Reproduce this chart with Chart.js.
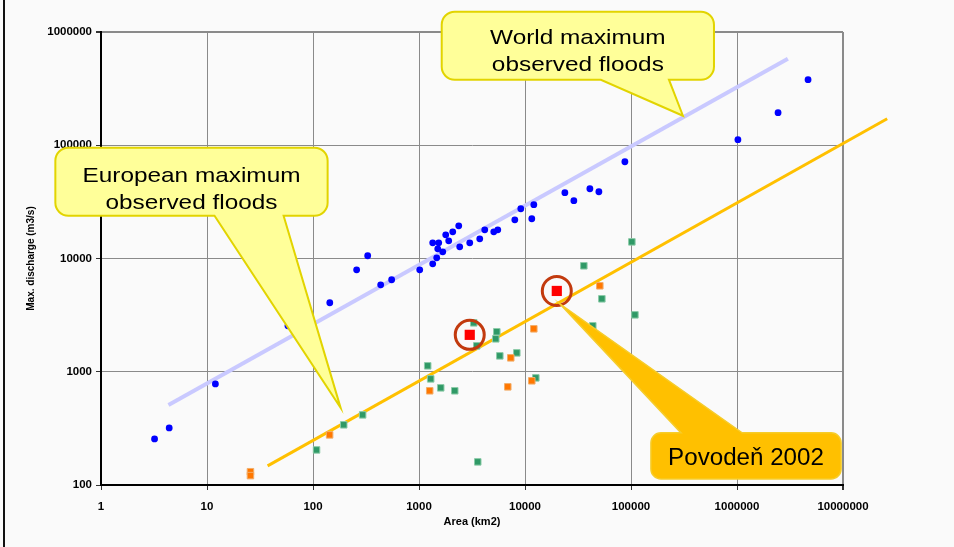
<!DOCTYPE html>
<html>
<head>
<meta charset="utf-8">
<script src="https://cdn.jsdelivr.net/npm/chart.js@4/dist/chart.umd.min.js"></script>
<style>
  html, body { margin: 0; padding: 0; background: #fafafa; overflow: hidden; }
  #wrap { position: relative; width: 954px; height: 547px; }
</style>
</head>
<body>
<div id="wrap"><canvas id="c" width="954" height="547"></canvas></div>
<script>
// Axis ticks (decades)
const areaTicks = [1, 10, 100, 1000, 10000, 100000, 1000000, 10000000];
const dischargeTicks = [100, 1000, 10000, 100000, 1000000];

// World maximum observed floods: catchment area (km2) and peak discharge (m3/s)
const worldArea = [3.2, 4.4, 12, 58, 144, 258, 328, 435, 552, 1016, 1347, 1469, 1347, 1535, 1503, 1675,
  1787, 1907, 2081, 2371, 2422, 3011, 3742, 4171, 5075, 5537, 8015, 9127, 11590, 12110, 23770, 28900,
  40930, 49770, 87560, 1020000, 2440000, 4680000];
const worldQ = [255, 319, 781, 2546, 4066, 7950, 10570, 5860, 6490, 7950, 8970, 10140, 13750, 13750, 12170, 11450,
  16180, 14320, 17200, 19440, 12670, 13750, 14920, 17920, 17200, 17920, 21970, 27500, 22430, 29860, 38100, 32380,
  41300, 38850, 71480, 111900, 193800, 379000];

// European maximum observed floods (two groups of stations)
const euroGreenArea = [108, 195, 294, 1208, 1289, 1603, 2175, 3286, 3508, 3584, 5300, 5420, 5786, 8370, 12650,
  35900, 43600, 53100, 101900, 108900];
const euroGreenQ = [204, 340, 416, 1128, 865, 721, 679, 2703, 1694, 160, 1953, 2254, 1381, 1468, 883,
  8620, 2546, 4406, 14020, 3180];
const euroOrangeArea = [25.7, 25.7, 143.5, 1262, 6880, 7340, 11590, 12110, 50800];
const euroOrangeQ = [131, 121, 277, 679, 736, 1327, 832, 2394, 5740];

// 2002 flood peaks
const flood2002Area = [3011, 19950];
const flood2002Q = [2118, 5170];

// Envelope curves
const worldEnvelopeArea = [4.33, 3020000];
const worldEnvelopeQ = [508, 581000];
const euroEnvelopeArea = [37.3, 26100000];
const euroEnvelopeQ = [147.5, 171400];

const pts = (xs, ys) => xs.map((v, i) => ({ x: v, y: ys[i] }));

// Callouts, placed in data space (area, discharge)
const callouts = [
  {
    lines: ['World maximum', 'observed floods'],
    area: [1638, 606500], q: [378900, 1510000],
    wedge: { side: 'bottom', a1: 51970, a2: 228000, tipA: 309000, tipQ: 182200 },
    fill: '#FFFF99', stroke: '#E2D400', lineW: 2, radius: 13,
    font: '21px "Liberation Sans", Arial, sans-serif', sx: 1.16, baselines: [-2, 25]
  },
  {
    lines: ['European maximum', 'observed floods'],
    area: [0.371, 137.4], q: [23840, 95040],
    wedge: { side: 'bottom', a1: 11.77, a2: 52.8, tipA: 182.2, tipQ: 479.8 },
    fill: '#FFFF99', stroke: '#E2D400', lineW: 2, radius: 13,
    font: '21px "Liberation Sans", Arial, sans-serif', sx: 1.16, baselines: [0, 27]
  },
  {
    lines: ['Povodeň 2002'],
    area: [154200, 9590000], q: [113.2, 288.6],
    wedge: { side: 'top', a1: 296600, a2: 1117000, tipA: 21330, tipQ: 3980 },
    fill: '#FFC000', stroke: '#F6CC2A', lineW: 1.5, radius: 10,
    font: '23px "Liberation Sans", Arial, sans-serif', sx: 1.05, baselines: [9]
  }
];

function calloutPath(ctx, l, t, r, b, rad, w) {
  ctx.beginPath();
  ctx.moveTo(l + rad, t);
  if (w.side === 'top') { ctx.lineTo(w.x1, t); ctx.lineTo(w.tx, w.ty); ctx.lineTo(w.x2, t); }
  ctx.lineTo(r - rad, t);
  ctx.arcTo(r, t, r, t + rad, rad);
  ctx.lineTo(r, b - rad);
  ctx.arcTo(r, b, r - rad, b, rad);
  if (w.side === 'bottom') { ctx.lineTo(w.x2, b); ctx.lineTo(w.tx, w.ty); ctx.lineTo(w.x1, b); }
  ctx.lineTo(l + rad, b);
  ctx.arcTo(l, b, l, b - rad, rad);
  ctx.lineTo(l, t + rad);
  ctx.arcTo(l, t, l + rad, t, rad);
  ctx.closePath();
}

const calloutPlugin = {
  id: 'callouts',
  afterDatasetsDraw(chart) {
    const { ctx } = chart;
    const xs = chart.scales.x, ys = chart.scales.y;
    callouts.forEach(c => {
      const l = xs.getPixelForValue(c.area[0]), r = xs.getPixelForValue(c.area[1]);
      const t = ys.getPixelForValue(c.q[1]), b = ys.getPixelForValue(c.q[0]);
      const w = {
        side: c.wedge.side,
        x1: xs.getPixelForValue(c.wedge.a1), x2: xs.getPixelForValue(c.wedge.a2),
        tx: xs.getPixelForValue(c.wedge.tipA), ty: ys.getPixelForValue(c.wedge.tipQ)
      };
      ctx.save();
      calloutPath(ctx, l, t, r, b, c.radius, w);
      ctx.fillStyle = c.fill;
      ctx.fill();
      ctx.lineWidth = c.lineW;
      ctx.strokeStyle = c.stroke;
      ctx.lineJoin = 'miter';
      ctx.stroke();
      const cx = (l + r) / 2, cy = (t + b) / 2;
      ctx.fillStyle = '#000';
      ctx.font = c.font;
      ctx.textAlign = 'center';
      ctx.textBaseline = 'alphabetic';
      c.lines.forEach((line, i) => {
        ctx.save();
        ctx.translate(cx, cy + c.baselines[i]);
        ctx.scale(c.sx, 1);
        ctx.fillText(line, 0, 0);
        ctx.restore();
      });
      ctx.restore();
    });
  }
};

const backdropPlugin = {
  id: 'backdrop',
  beforeDraw(chart) {
    const { ctx, width, height } = chart;
    ctx.save();
    ctx.fillStyle = '#fafafa';
    ctx.fillRect(0, 0, width, height);
    ctx.fillStyle = '#111';
    ctx.fillRect(3, 0, 2, height);
    ctx.restore();
  }
};

const tickFont = { family: '"Liberation Sans", Arial, sans-serif', size: 11.5, weight: 'bold' };

new Chart(document.getElementById('c'), {
  type: 'scatter',
  data: {
    datasets: [
      {
        label: 'World envelope', data: pts(worldEnvelopeArea, worldEnvelopeQ),
        showLine: true, borderColor: '#C9C9FF', borderWidth: 4, pointRadius: 0, order: 6, clip: false
      },
      {
        label: 'European envelope', data: pts(euroEnvelopeArea, euroEnvelopeQ),
        showLine: true, borderColor: '#FFC000', borderWidth: 3, pointRadius: 0, order: 6, clip: false
      },
      {
        label: 'World', data: pts(worldArea, worldQ),
        pointStyle: 'circle', pointRadius: 3.4, backgroundColor: '#0000FF', borderWidth: 0, order: 5
      },
      {
        label: 'Europe A', data: pts(euroGreenArea, euroGreenQ),
        pointStyle: 'rect', pointRadius: 4.6, backgroundColor: '#2F9966', borderColor: '#8CCBA8',
        borderWidth: 1, order: 4
      },
      {
        label: 'Europe B', data: pts(euroOrangeArea, euroOrangeQ),
        pointStyle: 'rect', pointRadius: 4.6, backgroundColor: '#FF7700', borderColor: '#F2AE6A',
        borderWidth: 1, order: 3
      },
      {
        label: '2002', data: pts(flood2002Area, flood2002Q),
        pointStyle: 'rect', pointRadius: 7.2, backgroundColor: '#FF0000', borderWidth: 0, order: 2
      },
      {
        label: '2002 ring', data: pts(flood2002Area, flood2002Q),
        pointStyle: 'circle', pointRadius: 14.5, backgroundColor: 'rgba(0,0,0,0)', borderColor: '#C23A0E',
        borderWidth: 3, order: 1, clip: false
      }
    ]
  },
  options: {
    responsive: false,
    devicePixelRatio: 1,
    animation: false,
    events: [],
    layout: { padding: { top: 32, right: 111, left: 0, bottom: 0 } },
    plugins: { legend: { display: false }, tooltip: { enabled: false } },
    scales: {
      x: {
        type: 'logarithmic', position: 'bottom', min: 1, max: 10000000,
        afterBuildTicks: s => { s.ticks = areaTicks.map(v => ({ value: v })); },
        afterFit: s => { s.height = 62; s.paddingLeft = 0; s.paddingRight = 0; },
        ticks: {
          autoSkip: false, maxRotation: 0, padding: 10, color: '#000', font: tickFont,
          callback: v => String(v)
        },
        grid: {
          color: '#8A8A8A', tickColor: '#333', tickLength: 5,
          lineWidth: c => (c.tick && c.tick.value === 10000000 ? 2 : 1)
        },
        border: { display: true, color: '#000', width: 2 },
        title: {
          display: true, text: 'Area (km2)', color: '#000',
          font: { family: '"Liberation Sans", Arial, sans-serif', size: 11, weight: 'bold' },
          padding: { top: 0, bottom: 18 }
        }
      },
      y: {
        type: 'logarithmic', position: 'left', min: 100, max: 1000000,
        afterBuildTicks: s => { s.ticks = dischargeTicks.map(v => ({ value: v })); },
        afterFit: s => { s.width = 101; s.paddingTop = 0; s.paddingBottom = 0; },
        ticks: {
          autoSkip: false, padding: 4, color: '#000', font: tickFont,
          callback: v => String(v)
        },
        grid: {
          color: '#8A8A8A', tickColor: '#333', tickLength: 5,
          lineWidth: c => (c.tick && c.tick.value === 1000000 ? 2 : 1)
        },
        border: { display: true, color: '#000', width: 2 },
        title: {
          display: true, text: 'Max. discharge (m3/s)', color: '#000',
          font: { family: '"Liberation Sans", Arial, sans-serif', size: 10, weight: 'bold' },
          padding: { top: 25, bottom: 0 }
        }
      }
    }
  },
  plugins: [backdropPlugin, calloutPlugin]
});
</script>
</body>
</html>
